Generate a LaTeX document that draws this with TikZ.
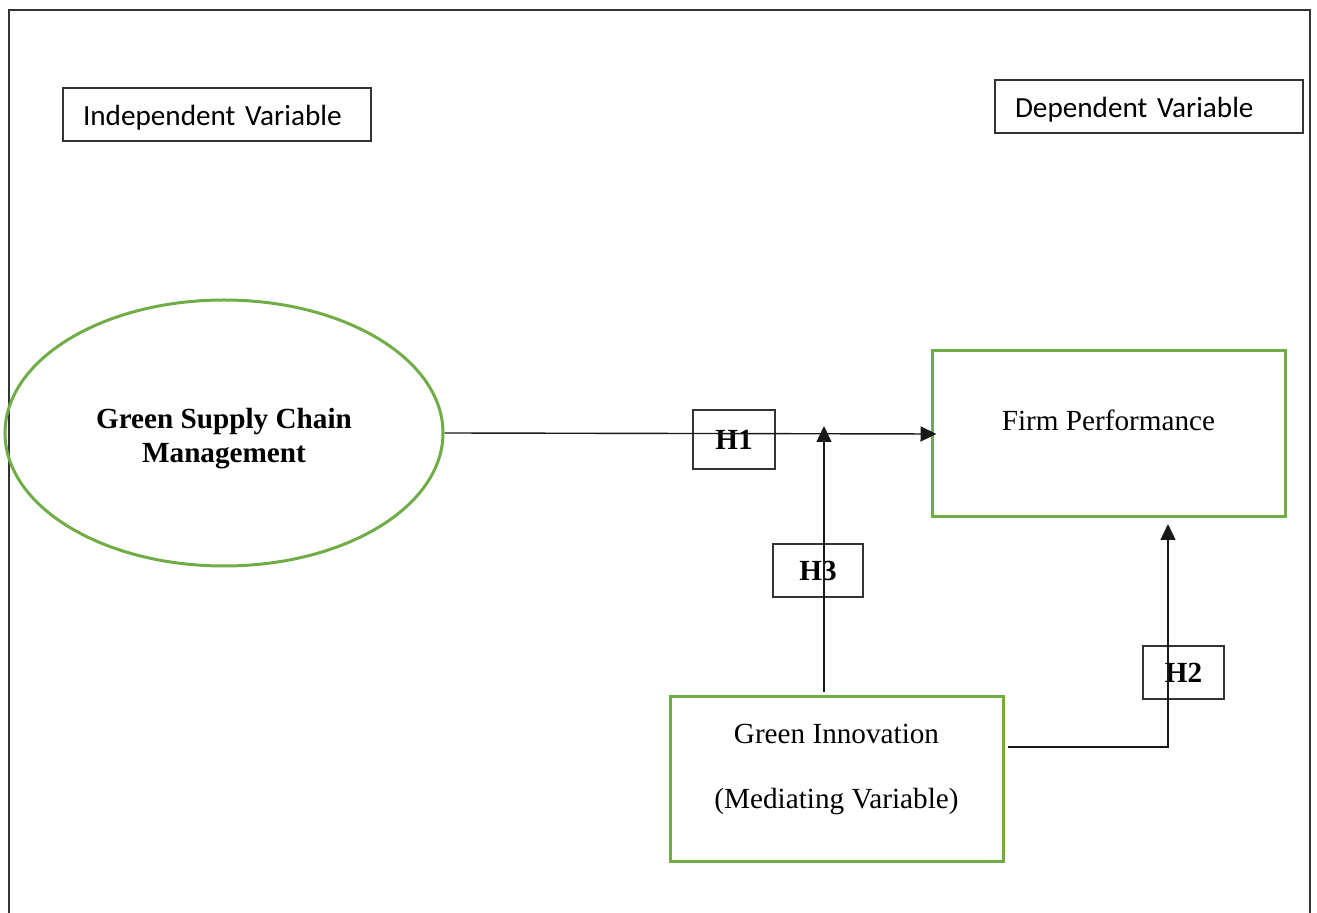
\documentclass[tikz,border=0pt]{standalone}
\usepackage{fontspec}
\setmainfont{Liberation Serif}
\newfontfamily\calibri{Carlito}
\usetikzlibrary{shapes.geometric,arrows.meta,positioning}
\definecolor{leafgreen}{RGB}{112,173,71}

\begin{document}
\begin{tikzpicture}[x=0.5pt,y=-0.5pt,>={Triangle[length=8pt,width=7.5pt]},
  every node/.style={font=\fontsize{14.6}{17}\selectfont},
  varlabel/.style={draw=black!80,line width=0.6pt,minimum width=154pt,
    minimum height=26.5pt,inner sep=0pt,text width=134pt,align=left,
    text height=14pt,text depth=2.6pt,font=\calibri\fontsize{14.6}{17}\selectfont},
  hyp/.style={draw=black!80,line width=0.6pt,inner sep=0pt,
    font=\bfseries\fontsize{14.6}{17}\selectfont},
  greenbox/.style={draw=leafgreen,line width=1.5pt,inner sep=0pt},
  link/.style={->,line width=0.7pt,black!90}]

  \useasboundingbox (0,0) rectangle (1317,913);

  % outer frame, open at the bottom
  \draw[black!80,line width=0.7pt] (9,913) -- (9,10) -- (1310,10) -- (1310,913);

  \node[varlabel] (indep) at (217,114.5) {Independent Variable};
  \node[varlabel] (dep) at (1149,106.5) {Dependent Variable};

  \node[greenbox,ellipse,minimum width=219pt,minimum height=133pt] (gscm) at (224,433) {};
  \node[align=center,font=\bfseries\fontsize{14.6}{17}\selectfont] (gscmtext) at (224,439)
    {Green Supply Chain\\Management};

  \node[greenbox,minimum width=176.5pt,minimum height=83pt] (fp) at (1108.5,434) {};
  \node (fptext) at ([yshift=-35.5pt]fp.north) {Firm Performance};

  \node[greenbox,minimum width=166.5pt,minimum height=82pt] (gi) at (836.5,779) {};
  \node[align=center,font=\fontsize{14.6}{32.5}\selectfont] (gitext) at (836.5,769.5)
    {Green Innovation\\(Mediating Variable)};

  \node[hyp,minimum width=41pt,minimum height=29.5pt] (h1) at (734,439.5) {H1};
  \node[hyp,minimum width=45pt,minimum height=26.5pt] (h3) at (818,570.5) {H3};
  \node[hyp,minimum width=40.5pt,minimum height=26.5pt] (h2) at (1183.5,672.5) {H2};

  \coordinate (h3start) at (824,692);
  \coordinate (h3end) at (824,426);
  \coordinate (h2start) at (1008,747);
  \coordinate (h2end) at (1168,524);

  \draw[link] (gscm.east) -- ([xshift=3pt]fp.west);
  \draw[link] (h3start) -- (h3end);
  \draw[link] (h2start) -| (h2end);
\end{tikzpicture}
\end{document}
